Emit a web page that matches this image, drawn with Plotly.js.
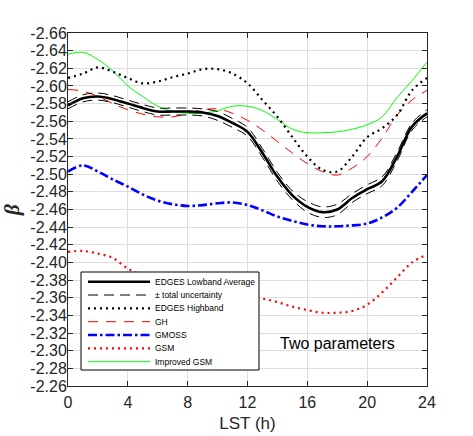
<!DOCTYPE html>
<html>
<head>
<meta charset="utf-8">
<script src="https://cdn.plot.ly/plotly-3.0.1.min.js"></script>
<style>
  html, body { margin: 0; padding: 0; background: #ffffff; }
  #chart { width: 473px; height: 436px; }
</style>
</head>
<body>
<div id="chart"></div>
<script>
// Local sidereal time (hours)
const lst = [0, 1, 2, 3, 4, 5, 6, 7, 8, 9, 10, 11, 12, 13, 14, 15, 16, 17, 18, 19, 20, 21, 22, 23, 24];

// Spectral index beta, two-parameter fit
const lowbandAvg = [-2.578, -2.586, -2.588, -2.585, -2.580, -2.575, -2.571, -2.571, -2.571, -2.570, -2.566, -2.558, -2.548,
                    -2.524, -2.497, -2.476, -2.463, -2.457, -2.460, -2.473, -2.483, -2.492, -2.520, -2.554, -2.569];
const lowbandUnc = [0.004, 0.004, 0.004, 0.004, 0.004, 0.004, 0.004, 0.004, 0.004, 0.004, 0.005, 0.005, 0.005,
                    0.005, 0.005, 0.005, 0.006, 0.006, 0.006, 0.005, 0.005, 0.005, 0.005, 0.004, 0.004];
const highband   = [-2.609, -2.614, -2.621, -2.616, -2.609, -2.603, -2.605, -2.610, -2.614, -2.619, -2.619, -2.614, -2.603,
                    -2.584, -2.565, -2.542, -2.520, -2.505, -2.503, -2.520, -2.542, -2.552, -2.567, -2.595, -2.609];
const gh         = [-2.596, -2.594, -2.588, -2.580, -2.573, -2.568, -2.565, -2.565, -2.569, -2.573, -2.574, -2.569, -2.561,
                    -2.550, -2.537, -2.524, -2.512, -2.503, -2.499, -2.507, -2.520, -2.541, -2.567, -2.584, -2.595];
const gmoss      = [-2.503, -2.510, -2.503, -2.494, -2.486, -2.477, -2.470, -2.466, -2.464, -2.465, -2.467, -2.468, -2.465,
                    -2.459, -2.452, -2.447, -2.443, -2.441, -2.441, -2.442, -2.444, -2.451, -2.462, -2.480, -2.499];
const gsm        = [-2.412, -2.413, -2.410, -2.405, -2.393, -2.385, -2.378, -2.373, -2.369, -2.366, -2.364, -2.362, -2.361,
                    -2.359, -2.355, -2.350, -2.346, -2.343, -2.343, -2.345, -2.352, -2.366, -2.383, -2.400, -2.409];
const improvedGsm = [-2.636, -2.638, -2.630, -2.617, -2.600, -2.588, -2.577, -2.571, -2.569, -2.569, -2.572, -2.577, -2.577,
                    -2.572, -2.562, -2.551, -2.547, -2.547, -2.548, -2.551, -2.556, -2.565, -2.587, -2.606, -2.627];

const seriesNames = ['EDGES Lowband Average', '\u00b1 total uncertainty', 'EDGES Highband', 'GH', 'GMOSS', 'GSM', 'Improved GSM'];

const xTickVals = [0, 4, 8, 12, 16, 20, 24];
const yTickVals = [-2.66, -2.64, -2.62, -2.60, -2.58, -2.56, -2.54, -2.52, -2.50, -2.48, -2.46, -2.44, -2.42, -2.40,
                   -2.38, -2.36, -2.34, -2.32, -2.30, -2.28, -2.26];
const yTickText = ['-2.66', '-2.64', '-2.62', '-2.60', '-2.58', '-2.56', '-2.54', '-2.52', '-2.50', '-2.48', '-2.46',
                   '-2.44', '-2.42', '-2.40', '-2.38', '-2.36', '-2.34', '-2.32', '-2.30', '-2.28', '-2.26'];

// Line styles, shared by the curves and the key
const styles = [
  { color: '#000000', width: 2.6, dash: 'solid' },
  { color: '#000000', width: 1,   dash: '10px,6px' },
  { color: '#000000', width: 2.2, dash: '2px,4px' },
  { color: '#ff0000', width: 1,   dash: '10px,8px' },
  { color: '#0000ff', width: 2.6, dash: '9px,3px,2.5px,3px' },
  { color: '#ff0000', width: 2.2, dash: '2px,4px' },
  { color: '#00ff00', width: 1,   dash: 'solid' }
];

const upper = lowbandAvg.map((v, i) => v - lowbandUnc[i]);
const lower = lowbandAvg.map((v, i) => v + lowbandUnc[i]);

function curve(y, idx) {
  return {
    x: lst, y: y, type: 'scatter', mode: 'lines',
    line: Object.assign({ shape: 'spline', smoothing: 1 }, styles[idx]),
    name: seriesNames[idx], showlegend: false, hoverinfo: 'skip'
  };
}

const traces = [
  curve(gsm, 5),
  curve(gmoss, 4),
  curve(improvedGsm, 6),
  curve(gh, 3),
  curve(highband, 2),
  curve(upper, 1),
  curve(lower, 1),
  curve(lowbandAvg, 0)
];

// Plot area in page pixels
const plotL = 68, plotR = 427, plotT = 33, plotB = 386;
const px = x => (x - plotL) / (plotR - plotL);
const py = y => (plotB - y) / (plotB - plotT);

// Key box drawn inside the axes, lower left
const shapes = [{
  type: 'rect', xref: 'paper', yref: 'paper', layer: 'above',
  x0: px(81), x1: px(259), y0: py(370), y1: py(272),
  fillcolor: '#ffffff', line: { color: '#000000', width: 1 }
}];
const annotations = [];
const rowTop = 281.7, rowStep = 13.33;
seriesNames.forEach((name, i) => {
  const yy = py(rowTop + i * rowStep);
  shapes.push({
    type: 'line', xref: 'paper', yref: 'paper', layer: 'above',
    x0: px(88), x1: px(150), y0: yy, y1: yy,
    line: { color: styles[i].color, width: styles[i].width, dash: styles[i].dash }
  });
  annotations.push({
    xref: 'paper', yref: 'paper', x: px(154), y: yy, xanchor: 'left', yanchor: 'middle',
    text: name, showarrow: false, borderpad: 0,
    font: { family: 'Liberation Sans, Arial, sans-serif', size: 8.5, color: '#000000' }
  });
});
annotations.push({
  xref: 'paper', yref: 'paper', x: px(337.5), y: py(343), xanchor: 'center', yanchor: 'middle',
  text: 'Two parameters', showarrow: false,
  font: { family: 'Liberation Sans, Arial, sans-serif', size: 16, color: '#000000' }
});

const axisCommon = {
  showline: true, linecolor: '#262626', linewidth: 1, mirror: 'ticks',
  ticks: 'inside', ticklen: 5, tickwidth: 1, tickcolor: '#262626',
  showgrid: true, gridcolor: '#dedede', gridwidth: 1, zeroline: false,
  tickfont: { family: 'Liberation Sans, Arial, sans-serif', size: 16, color: '#262626' }
};

const layout = {
  width: 473, height: 436,
  margin: { l: plotL, r: 473 - plotR, t: plotT, b: 436 - plotB, pad: 0 },
  paper_bgcolor: '#ffffff', plot_bgcolor: '#ffffff',
  showlegend: false,
  xaxis: Object.assign({}, axisCommon, {
    range: [0, 24], tickvals: xTickVals, ticklabelstandoff: 2,
    title: { text: 'LST (h)', standoff: 6,
             font: { family: 'Liberation Sans, Arial, sans-serif', size: 17, color: '#262626' } }
  }),
  yaxis: Object.assign({}, axisCommon, {
    range: [-2.26, -2.66], tickvals: yTickVals, ticktext: yTickText, ticklabelstandoff: -3,
    title: { text: '<b><i>\u03b2</i></b>', standoff: 4,
             font: { family: 'Liberation Serif, serif', size: 21, color: '#262626' } }
  }),
  shapes: shapes,
  annotations: annotations
};

Plotly.newPlot('chart', traces, layout, { staticPlot: true, displayModeBar: false });
</script>
</body>
</html>
